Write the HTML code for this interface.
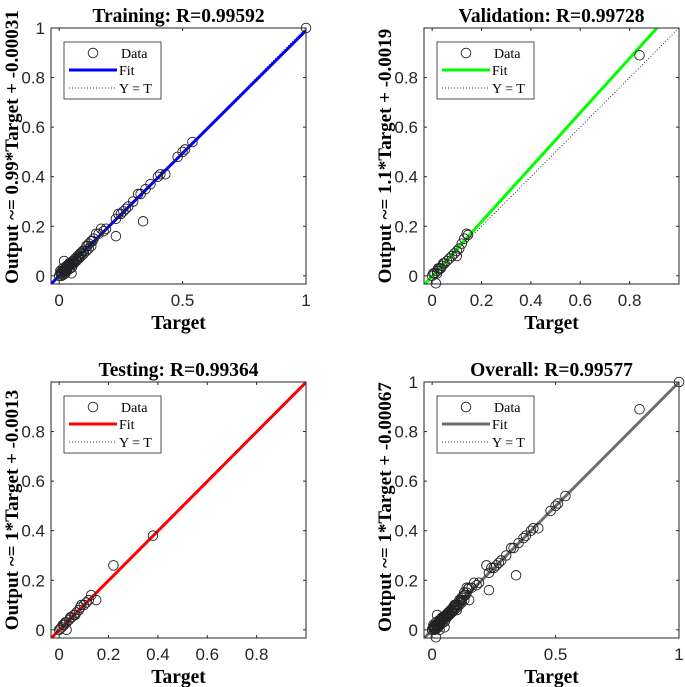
<!DOCTYPE html>
<html><head><meta charset="utf-8"><style>
html,body{margin:0;padding:0;background:#fff;}
svg{display:block;}
.tick{font-family:"Liberation Sans",sans-serif;font-size:17px;fill:#262626;}
.ttl{font-family:"Liberation Serif",serif;font-size:19.5px;font-weight:bold;fill:#000;}
.lab{font-family:"Liberation Serif",serif;font-size:19.5px;font-weight:bold;fill:#000;}
.ylab{font-family:"Liberation Serif",serif;font-size:19px;font-weight:bold;fill:#000;}
.leg{font-family:"Liberation Serif",serif;font-size:14px;fill:#000;}
</style></head><body>
<svg id="fig" width="685" height="687" viewBox="0 0 685 687" xmlns="http://www.w3.org/2000/svg"></svg>
<script>
// ---- data ----
const panelTitles = ["Training: R=0.99592","Validation: R=0.99728","Testing: R=0.99364","Overall: R=0.99577"];
const yLabels = ["Output ~= 0.99*Target + -0.00031","Output ~= 1.1*Target + -0.0019","Output ~= 1*Target + -0.0013","Output ~= 1*Target + -0.00067"];
const fitSlopes = [0.99, 1.1, 1.0, 1.0];
const fitIntercepts = [-0.00031, -0.0019, -0.0013, -0.00067];
const fitColors = ["#0000ff","#00ff00","#ff0000","#6e6e6e"];
const xTicks = [[0,0.5,1],[0,0.2,0.4,0.6,0.8],[0,0.2,0.4,0.6,0.8],[0,0.5,1]];
const xTickLabels = [["0","0.5","1"],["0","0.2","0.4","0.6","0.8"],["0","0.2","0.4","0.6","0.8"],["0","0.5","1"]];
const yTicks = [[0,0.2,0.4,0.6,0.8,1],[0,0.2,0.4,0.6,0.8],[0,0.2,0.4,0.6,0.8],[0,0.2,0.4,0.6,0.8,1]];
const yTickLabels = [["0","0.2","0.4","0.6","0.8","1"],["0","0.2","0.4","0.6","0.8"],["0","0.2","0.4","0.6","0.8"],["0","0.2","0.4","0.6","0.8","1"]];
const trainTargets = [1,0.54,0.51,0.50,0.48,0.43,0.41,0.40,0.37,0.35,0.33,0.32,0.30,0.28,0.27,0.26,0.25,0.24,0.23,0.34,0.23,0.19,0.18,0.17,0.16,0.15,0.14,0.135,0.13,0.12,0.115,0.11,0.10,0.095,0.09,0.085,0.08,0.075,0.07,0.065,0.06,0.055,0.05,0.045,0.04,0.035,0.03,0.025,0.02,0.015,0.01,0.005,0,0.02,0.05,0.03,0.06,0.08,0.10,0.12,0.04,0.01,0.07,0.09,0.11,0.13,0.005,0.015,0.025,0.03,0.045,0.012,0.022,0.032,0.042,0.052,0.062,0.072,0.082,0.008,0.018,0.028,0.038];
const trainOutputs = [1,0.54,0.51,0.50,0.48,0.41,0.41,0.40,0.37,0.35,0.33,0.33,0.30,0.28,0.27,0.26,0.25,0.25,0.23,0.22,0.16,0.19,0.18,0.19,0.17,0.17,0.15,0.14,0.14,0.13,0.12,0.12,0.10,0.10,0.09,0.09,0.08,0.08,0.07,0.07,0.06,0.06,0.05,0.05,0.04,0.04,0.03,0.03,0.02,0.02,0.01,0.01,0,0.06,0.01,0.02,0.05,0.07,0.09,0.11,0.05,0.0,0.06,0.08,0.10,0.12,0.02,0.03,0.01,0.04,0.03,0.005,0.015,0.025,0.045,0.035,0.055,0.065,0.075,0.015,0.005,0.035,0.025];
const valTargets = [0.84,0.14,0.145,0.13,0.12,0.10,0.09,0.10,0.08,0.07,0.06,0.05,0.04,0.03,0.02,0.01,0,0.005,0.015,0.02,0.035,0.045,0.11,0.025];
const valOutputs = [0.89,0.17,0.165,0.15,0.13,0.10,0.09,0.08,0.08,0.07,0.06,0.05,0.04,0.03,0.02,0.01,0,0.01,-0.03,0.01,0.03,0.05,0.11,0.03];
const testTargets = [0.38,0.22,0.13,0.15,0.11,0.10,0.09,0.08,0.07,0.06,0.05,0.04,0.03,0.02,0.01,0,0.005,0.03,0.015,0.045,0.12,0.085,0.065,0.025];
const testOutputs = [0.38,0.26,0.14,0.12,0.11,0.10,0.10,0.08,0.07,0.06,0.05,0.04,0.03,0.02,0.01,0,0.005,0.0,0.02,0.05,0.12,0.09,0.06,0.03];
const allTargets = trainTargets.concat(valTargets, testTargets);
const allOutputs = trainOutputs.concat(valOutputs, testOutputs);
const seriesT = [trainTargets, valTargets, testTargets, allTargets];
const seriesO = [trainOutputs, valOutputs, testOutputs, allOutputs];

// ---- layout ----
const NS = "http://www.w3.org/2000/svg";
const fig = document.getElementById("fig");
const origins = [[51,28],[424,28],[51,382],[424,382]];
const yLabelShift = [-9, 0, 0, -3];
const W = 255, H = 256, DMIN = -0.033, DMAX = 1.0;
function mk(tag, attrs, parent){const e=document.createElementNS(NS,tag);for(const k in attrs)e.setAttribute(k,attrs[k]);(parent||fig).appendChild(e);return e;}
const names = ["training","validation","testing","overall"];

for(let p=0;p<4;p++){
  const [ox,oy]=origins[p];
  const sx=v=>ox+(v-DMIN)/(DMAX-DMIN)*W;
  const sy=v=>oy+H-(v-DMIN)/(DMAX-DMIN)*H;
  const g=mk("g",{});
  
  
  const cid="clip"+p;
  const cp=mk("clipPath",{id:cid},g); mk("rect",{x:ox,y:oy,width:W,height:H},cp);
  mk("rect",{x:ox,y:oy,width:W,height:H,fill:"#fff"},g);
  xTicks[p].forEach((t,i)=>{
    const x=sx(t);
    mk("line",{x1:x,x2:x,y1:oy+H,y2:oy+H-3,stroke:"#262626"},g);
    mk("line",{x1:x,x2:x,y1:oy,y2:oy+3,stroke:"#262626"},g);
    const tx=mk("text",{x:x,y:oy+H+22,"text-anchor":"middle",class:"tick"},g);
    tx.textContent=xTickLabels[p][i];
    
    
  });
  yTicks[p].forEach((t,i)=>{
    const y=sy(t);
    mk("line",{x1:ox,x2:ox+3,y1:y,y2:y,stroke:"#262626"},g);
    mk("line",{x1:ox+W,x2:ox+W-3,y1:y,y2:y,stroke:"#262626"},g);
    const ty=mk("text",{x:ox-6,y:y+6,"text-anchor":"end",class:"tick"},g);
    ty.textContent=yTickLabels[p][i];
    
    
  });
  const cg=mk("g",{"clip-path":"url(#"+cid+")"},g);
  const yt=mk("line",{x1:sx(DMIN),y1:sy(DMIN),x2:sx(DMAX),y2:sy(DMAX),stroke:"#000","stroke-width":0.8,"stroke-dasharray":"1,2"},cg);
  
  
  const a=fitSlopes[p], b=fitIntercepts[p];
  const fl=mk("line",{x1:sx(DMIN),y1:sy(a*DMIN+b),x2:sx(DMAX),y2:sy(a*DMAX+b),stroke:fitColors[p],"stroke-width":3},cg);
  
  
  seriesT[p].forEach((t,i)=>{
    const c=mk("circle",{cx:sx(t),cy:sy(seriesO[p][i]),r:4.8,fill:"none",stroke:"#222","stroke-width":0.9},g);
    
    
  });
  mk("rect",{x:ox,y:oy,width:W,height:H,fill:"none",stroke:"#262626","stroke-width":1},g);
  const tt=mk("text",{x:ox+W/2,y:oy-6,"text-anchor":"middle",class:"ttl"},g);
  tt.textContent=panelTitles[p];
  
  
  const xl=mk("text",{x:ox+W/2,y:oy+H+45,"text-anchor":"middle",class:"lab"},g);
  xl.textContent="Target";
  
  
  const lx=ox-33, ly=oy+H/2+yLabelShift[p];
  const yl=mk("text",{x:lx,y:ly,"text-anchor":"middle",class:"ylab",transform:"rotate(-90 "+lx+" "+ly+")"},g);
  yl.textContent=yLabels[p];
  
  
  const lg=mk("g",{},g);
  
  
  const lx0=ox+13, ly0=oy+14;
  mk("rect",{x:lx0,y:ly0,width:97,height:57,fill:"#fff",stroke:"#262626","stroke-width":0.8},lg);
  mk("circle",{cx:lx0+29,cy:ly0+11,r:4.8,fill:"none",stroke:"#222","stroke-width":0.9},lg);
  mk("line",{x1:lx0+5,x2:lx0+53,y1:ly0+28,y2:ly0+28,stroke:fitColors[p],"stroke-width":3},lg);
  mk("line",{x1:lx0+5,x2:lx0+53,y1:ly0+46,y2:ly0+46,stroke:"#000","stroke-width":0.8,"stroke-dasharray":"1,2"},lg);
  [["Data",16],["Fit",33],["Y = T",51]].forEach(([s,dy])=>{
    const e=mk("text",{x:lx0+(s==="Data"?57:55),y:ly0+dy,class:"leg"},lg);
    e.textContent=s;
    
    
  });
}
</script>
</body></html>
